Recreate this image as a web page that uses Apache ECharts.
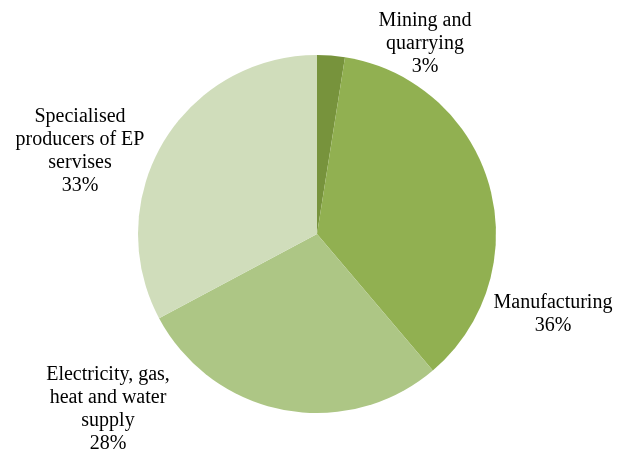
<!DOCTYPE html>
<html>
<head>
<meta charset="utf-8">
<script src="https://cdn.jsdelivr.net/npm/echarts@6/dist/echarts.min.js"></script>
<style>
  html, body { margin: 0; padding: 0; background: #fff; }
  #chart { width: 623px; height: 452px; }
</style>
</head>
<body>
<div id="chart"></div>
<script>
// sectors, clockwise from 12 o'clock
const categories = ['Mining and\nquarrying', 'Manufacturing', 'Electricity, gas,\nheat and water\nsupply', 'Specialised\nproducers of EP\nservises'];
const shares = [2.5, 36.3, 28.4, 32.8];
const colors = ['#77933c', '#91b051', '#adc685', '#d0ddbb'];

// where each label block sits (centre of the text)
const labelSpots = [[425, 44], [553, 314], [108, 409], [80, 151]];

var myChart = echarts.init(document.getElementById('chart'));
myChart.setOption({
  animation: false,
  color: colors,
  series: [
    {
      type: 'pie',
      center: [317, 234],
      radius: 179,
      startAngle: 90,
      clockwise: true,
      itemStyle: { borderWidth: 0 },
      label: {
        show: true,
        position: 'outside',
        color: '#000',
        fontFamily: '"Liberation Serif", "Times New Roman", serif',
        fontSize: 20,
        lineHeight: 23,
        align: 'center',
        overflow: 'none',
        width: 200,
        formatter: function (p) {
          return p.name + '\n' + Math.round(p.value) + '%';
        }
      },
      labelLine: { show: false },
      labelLayout: function (params) {
        const s = labelSpots[params.dataIndex];
        return { x: s[0], y: s[1], align: 'center', verticalAlign: 'middle' };
      },
      data: categories.map((c, i) => ({ name: c, value: shares[i] }))
    }
  ]
});
</script>
</body>
</html>
